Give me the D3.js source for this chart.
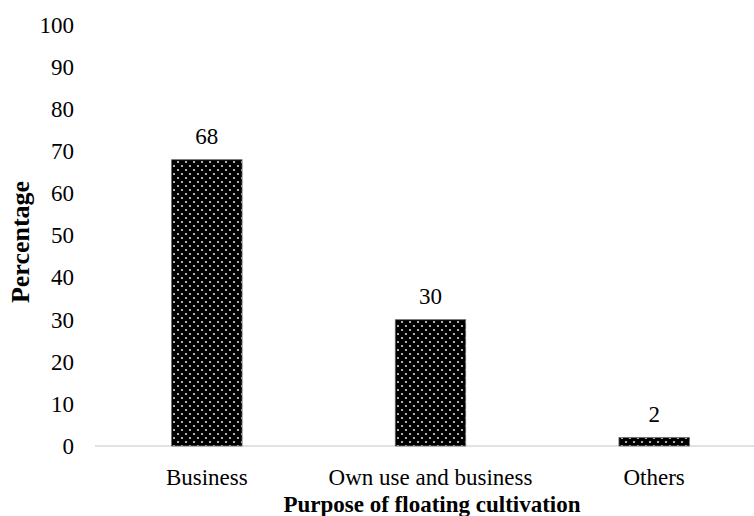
<!DOCTYPE html>
<html>
<head>
<meta charset="utf-8">
<script src="https://cdn.jsdelivr.net/npm/d3@7"></script>
<style>
  html, body { margin: 0; padding: 0; background: #fff; }
  svg { display: block; }
</style>
</head>
<body>
<svg id="chart" width="754" height="516"></svg>
<script>
// purpose of floating cultivation — share of respondents
const categories = ["Business", "Own use and business", "Others"];
const values = [68, 30, 2];
const yTicks = [0, 10, 20, 30, 40, 50, 60, 70, 80, 90, 100];

const W = 754, H = 516;
const SERIF = "'Liberation Serif', 'Times New Roman', 'DejaVu Serif', serif";
const svg = d3.select("#chart");

// dotted black fill, like the Excel dotted pattern
const defs = svg.append("defs");
const pat = defs.append("pattern")
  .attr("id", "dots").attr("patternUnits", "userSpaceOnUse")
  .attr("width", 8).attr("height", 8);
pat.append("rect").attr("width", 8).attr("height", 8).attr("fill", "#000");
[[2, 2], [6, 6]].forEach(([cx, cy]) => {
  pat.append("circle").attr("cx", cx).attr("cy", cy).attr("r", 1.1).attr("fill", "#d8d8d8");
});

const x = d3.scaleBand().domain(categories).range([95, 766])
  .paddingInner(0.685).paddingOuter(0.3425);
const y = d3.scaleLinear().domain([0, 100]).range([446, 25]);

function label(sel, size, weight) {
  return sel.attr("font-family", SERIF).attr("font-size", size)
    .attr("font-weight", weight || "normal").attr("fill", "#000");
}

// y tick labels (no axis line)
label(svg.append("g").selectAll("text").data(yTicks).join("text"), 23)
  .attr("x", 74).attr("y", d => y(d)).attr("dy", "0.34em")
  .attr("text-anchor", "end")
  .text(d => d);

// baseline
svg.append("line")
  .attr("x1", 95).attr("x2", W).attr("y1", y(0)).attr("y2", y(0))
  .attr("stroke", "#d9d9d9").attr("stroke-width", 1.3);

// bars
svg.append("g").selectAll("rect").data(values).join("rect")
  .attr("x", (d, i) => x(categories[i]))
  .attr("y", d => y(d))
  .attr("width", x.bandwidth())
  .attr("height", d => y(0) - y(d))
  .attr("fill", "url(#dots)")
  .attr("stroke", "#666").attr("stroke-width", 0.8);

// value labels
label(svg.append("g").selectAll("text").data(values).join("text"), 23)
  .attr("x", (d, i) => x(categories[i]) + x.bandwidth() / 2)
  .attr("y", d => y(d) - 16)
  .attr("text-anchor", "middle")
  .text(d => d);

// category labels
label(svg.append("g").selectAll("text").data(categories).join("text"), 23)
  .attr("x", d => x(d) + x.bandwidth() / 2)
  .attr("y", 485)
  .attr("text-anchor", "middle")
  .text(d => d);

// axis titles
label(svg.append("text"), 23, "bold")
  .attr("x", 432).attr("y", 512)
  .attr("text-anchor", "middle")
  .text("Purpose of floating cultivation");

label(svg.append("text"), 26, "bold")
  .attr("transform", "translate(29,242) rotate(-90)")
  .attr("text-anchor", "middle")
  .text("Percentage");
</script>
</body>
</html>
